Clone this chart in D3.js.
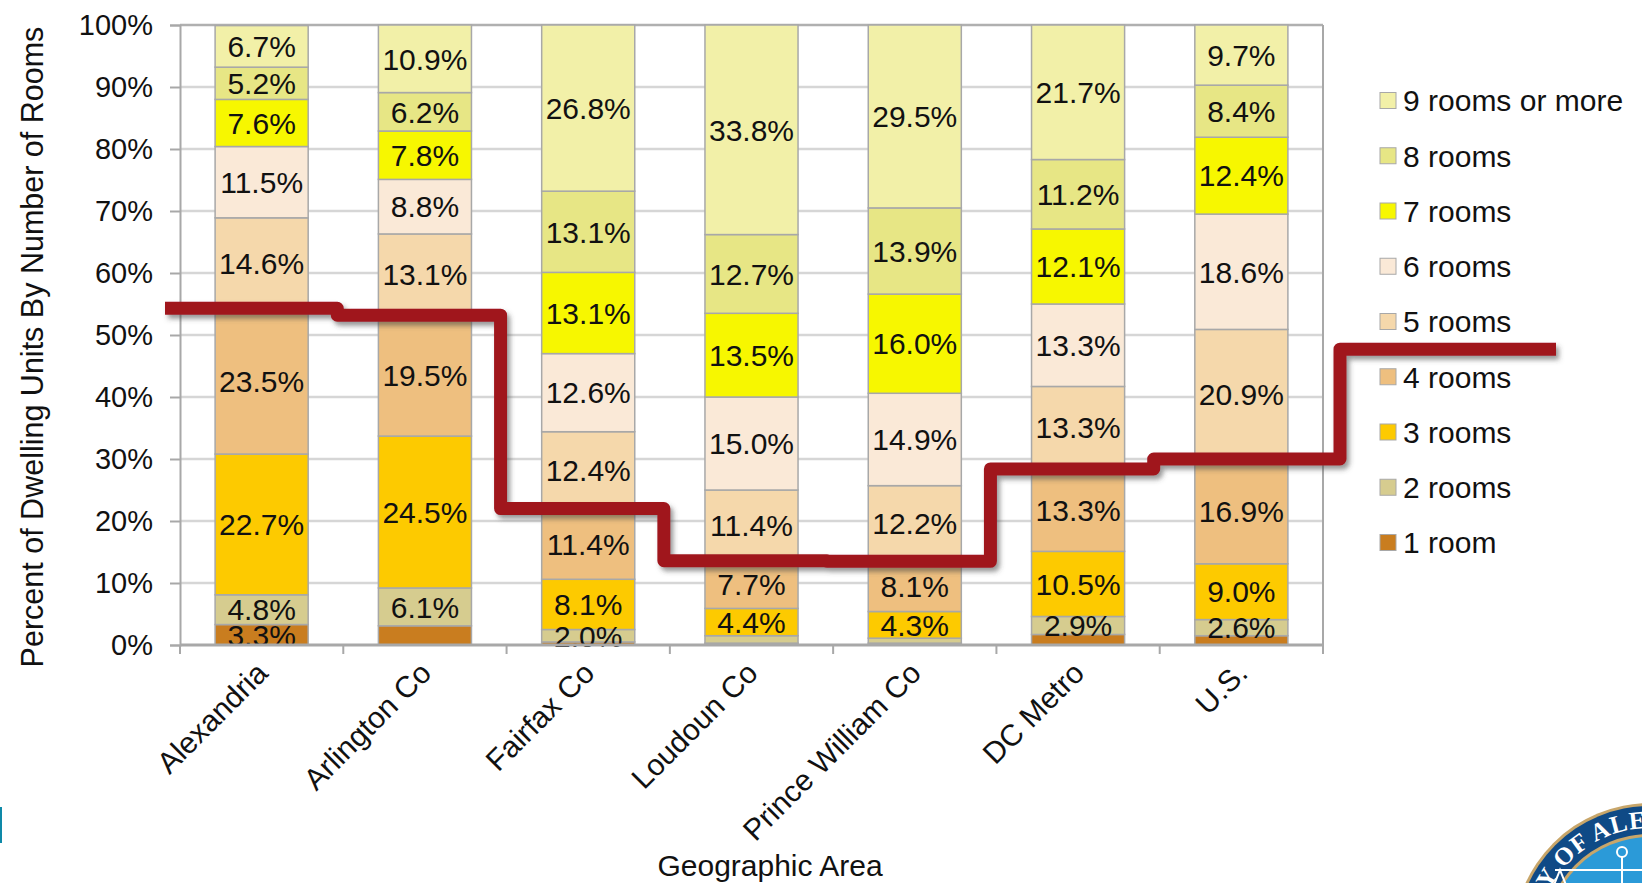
<!DOCTYPE html>
<html>
<head>
<meta charset="utf-8">
<script src="https://cdn.jsdelivr.net/npm/d3@7"></script>
<style>
	body{margin:0;background:#fff;}
	svg{display:block;font-family:Arial,"Liberation Sans",sans-serif;}
	.tick text{fill:#111;}
</style>
</head>
<body>
<script>

//categories and series, bottom of the stack first
var categories = ["Alexandria","Arlington Co","Fairfax Co","Loudoun Co","Prince William Co","DC Metro","U.S."];
var roomTypes = ["1 room","2 rooms","3 rooms","4 rooms","5 rooms","6 rooms","7 rooms","8 rooms","9 rooms or more"];

var oneRoom    = [3.3, 3.1, 0.5, 0.3, 0.3, 1.7, 1.5];
var twoRooms   = [4.8, 6.1, 2.0, 1.2, 0.8, 2.9, 2.6];
var threeRooms = [22.7, 24.5, 8.1, 4.4, 4.3, 10.5, 9.0];
var fourRooms  = [23.5, 19.5, 11.4, 7.7, 8.1, 13.3, 16.9];
var fiveRooms  = [14.6, 13.1, 12.4, 11.4, 12.2, 13.3, 20.9];
var sixRooms   = [11.5, 8.8, 12.6, 15.0, 14.9, 13.3, 18.6];
var sevenRooms = [7.6, 7.8, 13.1, 13.5, 16.0, 12.1, 12.4];
var eightRooms = [5.2, 6.2, 13.1, 12.7, 13.9, 11.2, 8.4];
var ninePlus   = [6.7, 10.9, 26.8, 33.8, 29.5, 21.7, 9.7];

//segments the original leaves without a label
var unlabelled = [["Arlington Co","1 room"]];

var yTicks = [0,10,20,30,40,50,60,70,80,90,100];

var colors = ["#c97d1f","#d6cc8f","#fdca00","#eebf7f","#f5d8ab","#fae9d7","#f7f700","#e7e685","#f2f0a8"];

var series = [oneRoom,twoRooms,threeRooms,fourRooms,fiveRooms,sixRooms,sevenRooms,eightRooms,ninePlus];

//rows for d3.stack
var table = categories.map(function(c,i){
	var row = {area:c};
	roomTypes.forEach(function(r,j){ row[r] = series[j][i]; });
	return row;
});

var W = 1642, H = 883;
var margin = {top:25, right:319, bottom:238, left:180};

var svg = d3.select("body").append("svg").attr("width",W).attr("height",H);

var x = d3.scaleBand()
	.domain(categories)
	.range([margin.left, W - margin.right])
	.paddingInner(0.43)
	.paddingOuter(0.215);

var y = d3.scaleLinear()
	.domain([0,100])
	.range([H - margin.bottom, margin.top]);

var stacked = d3.stack().keys(roomTypes)(table);

//shadow for the hand drawn line
var defs = svg.append("defs");
defs.append("filter").attr("id","shadow").attr("x","-5%").attr("y","-20%").attr("width","110%").attr("height","160%")
	.append("feDropShadow")
	.attr("dx",3).attr("dy",4).attr("stdDeviation",2.5)
	.attr("flood-color","#444").attr("flood-opacity",0.55);

//gridlines
svg.append("g")
	.selectAll("line")
	.data(yTicks.slice(1))
	.enter().append("line")
	.attr("x1",margin.left).attr("x2",W - margin.right)
	.attr("y1",function(d){return y(d);}).attr("y2",function(d){return y(d);})
	.attr("stroke",function(d){return d==100?"#b0b0b0":"#d6d6d6";})
	.attr("stroke-width",2.5);

//right border of the plot
svg.append("line")
	.attr("x1",W - margin.right).attr("x2",W - margin.right)
	.attr("y1",y(100)).attr("y2",y(0))
	.attr("stroke","#a8a8a8").attr("stroke-width",2);

//bars
var layer = svg.append("g").selectAll("g")
	.data(stacked)
	.enter().append("g")
	.attr("fill",function(d,i){return colors[i];});

layer.selectAll("rect")
	.data(function(d){return d;})
	.enter().append("rect")
	.attr("x",function(d){return x(d.data.area);})
	.attr("y",function(d){return y(d[1]);})
	.attr("width",x.bandwidth())
	.attr("height",function(d){return y(d[0]) - y(d[1]);})
	.attr("stroke","#a8a8a8")
	.attr("stroke-width",1.5);

//value labels, the thin slivers stay unlabelled
var labels = svg.append("g")
	.attr("font-size",30)
	.attr("fill","#111")
	.attr("text-anchor","middle");

stacked.forEach(function(s){
	s.forEach(function(d){
		var v = d[1] - d[0];
		if(v < 1.95){return;}
		var skip = unlabelled.some(function(u){return u[0]==d.data.area && u[1]==s.key;});
		if(skip){return;}
		labels.append("text")
			.attr("x",x(d.data.area) + x.bandwidth()/2)
			.attr("y",y((d[0]+d[1])/2))
			.attr("dy","0.36em")
			.text(v.toFixed(1) + "%");
	});
});

//y axis
var yAxis = svg.append("g")
	.attr("transform","translate(" + margin.left + ",0)")
	.call(d3.axisLeft(y).tickValues(yTicks).tickFormat(function(d){return d + "%";}).tickSize(10).tickPadding(17));
yAxis.select(".domain").attr("stroke","#a8a8a8").attr("stroke-width",2);
yAxis.selectAll(".tick line").attr("stroke","#a8a8a8").attr("stroke-width",2);
yAxis.selectAll(".tick text").attr("font-size",29).attr("font-family","Arial, Liberation Sans, sans-serif");

//x axis, ticks between the categories
var step = x.step();
var bounds = d3.range(categories.length + 1).map(function(i){return margin.left + i*step;});

svg.append("line")
	.attr("x1",margin.left).attr("x2",W - margin.right)
	.attr("y1",y(0)).attr("y2",y(0))
	.attr("stroke","#a8a8a8").attr("stroke-width",3);

svg.append("g").selectAll("line")
	.data(bounds)
	.enter().append("line")
	.attr("x1",function(d){return d;}).attr("x2",function(d){return d;})
	.attr("y1",y(0)).attr("y2",y(0) + 9)
	.attr("stroke","#a8a8a8").attr("stroke-width",2);

svg.append("g").selectAll("text")
	.data(categories)
	.enter().append("text")
	.attr("transform",function(d){return "translate(" + (x(d) + x.bandwidth()/2 + 8) + "," + (y(0) + 30) + ") rotate(-45)";})
	.attr("text-anchor","end")
	.attr("font-size",30)
	.attr("fill","#111")
	.text(function(d){return d;});

//axis titles
svg.append("text")
	.attr("transform","translate(43," + ((y(0)+y(100))/2 + 12) + ") rotate(-90)")
	.attr("text-anchor","middle")
	.attr("font-size",30.5)
	.attr("fill","#111")
	.text("Percent of Dwelling Units By Number of Rooms");

svg.append("text")
	.attr("x",770).attr("y",876)
	.attr("text-anchor","middle")
	.attr("font-size",30)
	.attr("fill","#111")
	.text("Geographic Area");

//legend, top item is the last series
var legendTop = 100.5, legendGap = 55.25;
var legendOrder = roomTypes.slice().reverse();
var legend = svg.append("g").selectAll("g")
	.data(legendOrder)
	.enter().append("g")
	.attr("transform",function(d,i){return "translate(1380," + (legendTop + i*legendGap) + ")";});

legend.append("rect")
	.attr("x",0).attr("y",-8).attr("width",16).attr("height",16)
	.attr("fill",function(d){return colors[roomTypes.indexOf(d)];})
	.attr("stroke","#a8a8a8").attr("stroke-width",1);

legend.append("text")
	.attr("x",23).attr("dy","0.36em")
	.attr("font-size",30)
	.attr("fill","#111")
	.text(function(d){return d;});

//red step line at the top of the "4 rooms" block, running into the legend
var topOfFour = stacked[3].map(function(d){return d[1];});
var legendSplit = legendTop + (legendOrder.indexOf("5 rooms") + 0.5)*legendGap;

var pts = [[margin.left - 15, y(topOfFour[0])]];
topOfFour.forEach(function(v,i){
	var xEnd = i < topOfFour.length - 1 ? bounds[i+1] - 6 : bounds[i+1] + 17;
	pts.push([pts[pts.length-1][0], y(v)]);
	pts.push([xEnd, y(v)]);
});
pts.push([pts[pts.length-1][0], legendSplit]);
pts.push([1556, legendSplit]);
pts.splice(1,1);

svg.append("path")
	.attr("d",d3.line()(pts))
	.attr("fill","none")
	.attr("stroke","#a0151f")
	.attr("stroke-width",13)
	.attr("stroke-linejoin","round")
	.attr("filter","url(#shadow)");

//city seal peeking in at the bottom right corner
var seal = svg.append("g").attr("transform","translate(1650,940)");
seal.append("circle").attr("r",137).attr("fill","#c8a66a");
seal.append("circle").attr("r",134).attr("fill","#0f4a86");
seal.append("circle").attr("r",106).attr("fill","#c8a66a");
seal.append("circle").attr("r",103).attr("fill","#2b9ad8");
defs.append("path").attr("id","sealArc")
	.attr("d","M -112,0 A 112,112 0 0,1 112,0");
seal.append("text")
	.attr("font-family","'Liberation Serif','DejaVu Serif',serif")
	.attr("font-weight","bold")
	.attr("font-size",25)
	.attr("fill","#fff")
	.attr("letter-spacing",1)
	.append("textPath")
	.attr("href","#sealArc")
	.attr("startOffset",4)
	.text("CITY OF ALEXANDRIA");
seal.append("g").attr("stroke","#fff").attr("stroke-width",2).attr("fill","none")
	.call(function(g){
		g.append("circle").attr("cx",-28).attr("cy",-88).attr("r",5);
		g.append("line").attr("x1",-28).attr("x2",-28).attr("y1",-83).attr("y2",-40);
		g.append("line").attr("x1",-95).attr("x2",10).attr("y1",-70).attr("y2",-70);
		g.append("path").attr("d","M -90,-70 L -100,-45 L -80,-45 Z");
	});
seal.append("rect").attr("x",-40).attr("y",-45).attr("width",30).attr("height",20).attr("fill","#fff");

//teal edge mark on the left
svg.append("rect").attr("x",0).attr("y",807).attr("width",2).attr("height",36).attr("fill","#0e89a8");

</script>
</body>
</html>
